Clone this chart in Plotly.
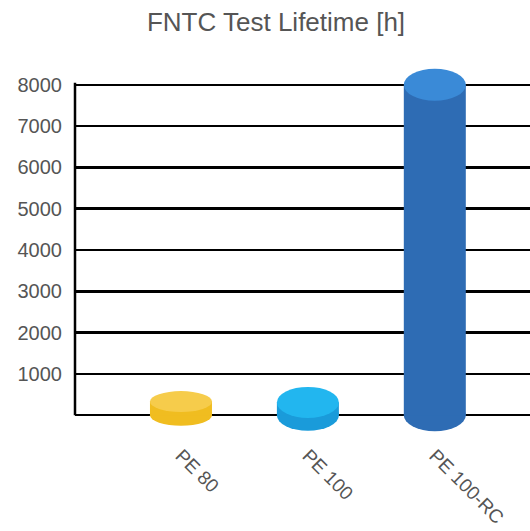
import plotly.graph_objects as go

# ---- data ----
categories = ["PE 80", "PE 100", "PE 100-RC"]
lifetime_h = [330, 310, 8000]
y_tick_values = [0, 1000, 2000, 3000, 4000, 5000, 6000, 7000, 8000]
y_tick_labels = ["", "1000", "2000", "3000", "4000", "5000", "6000", "7000", "8000"]

# ---- styles ----
top_colors = ["#F6CC4B", "#22B6EF", "#3A8AD7"]
side_colors = ["#F0BD20", "#1A9BDA", "#2E6CB4"]
cap_half_px = [10.5, 15.5, 16]
W, H = 530, 531
M = dict(l=75, r=0, t=60, b=91)
y_range = [-600, 8600]
x_range = [-0.835, 2.75]
plot_h = H - M["t"] - M["b"]
plot_w = W - M["l"] - M["r"]
unit_per_px_y = (y_range[1] - y_range[0]) / plot_h
unit_per_px_x = (x_range[1] - x_range[0]) / plot_w
half_w = 31 * unit_per_px_x

fig = go.Figure()
fig.add_trace(go.Scatter(x=list(range(len(categories))), y=lifetime_h, mode="markers",
                         marker=dict(opacity=0), hoverinfo="skip", showlegend=False))

shapes = []
for i, v in enumerate(lifetime_h):
    hh = cap_half_px[i] * unit_per_px_y
    shapes.append(dict(type="circle", xref="x", yref="y", x0=i - half_w, x1=i + half_w,
                       y0=-hh, y1=hh, fillcolor=side_colors[i], line=dict(width=0)))
    shapes.append(dict(type="rect", xref="x", yref="y", x0=i - half_w, x1=i + half_w,
                       y0=0, y1=v, fillcolor=side_colors[i], line=dict(width=0)))
    shapes.append(dict(type="circle", xref="x", yref="y", x0=i - half_w, x1=i + half_w,
                       y0=v - hh, y1=v + hh, fillcolor=top_colors[i], line=dict(width=0)))

# vertical axis line
shapes.append(dict(type="line", xref="paper", yref="y", x0=0, x1=0, y0=0, y1=8050,
                   line=dict(color="black", width=2.5), layer="above"))

fig.update_layout(
    width=W, height=H, margin=dict(M, autoexpand=False),
    paper_bgcolor="white", plot_bgcolor="white",
    font=dict(family="Arial, Liberation Sans, sans-serif", color="#555555"),
    title=dict(text="FNTC Test Lifetime [h]", x=276 / W, xref="container",
               xanchor="center", y=1 - 22 / H, yref="container", yanchor="middle",
               font=dict(size=26, color="#555555")),
    shapes=shapes,
    showlegend=False,
)
fig.update_xaxes(range=x_range, tickvals=list(range(len(categories))), ticktext=categories,
                 tickangle=45, showgrid=False, zeroline=False, showline=False, ticks="",
                 automargin=False, tickfont=dict(size=19, color="#555555"))
fig.update_yaxes(range=y_range, tickvals=y_tick_values, ticktext=y_tick_labels,
                 showgrid=True, gridcolor="black", gridwidth=2.5, zeroline=False,
                 showline=False, ticks="", ticklabelstandoff=12, automargin=False,
                 tickfont=dict(size=20, color="#555555"))

fig.write_html(
    "out.html",
    config={"displayModeBar": False, "staticPlot": True},
    post_script="document.documentElement.style.overflow='hidden';"
                "document.body.style.overflow='hidden';"
                "document.body.style.margin='0';",
)
